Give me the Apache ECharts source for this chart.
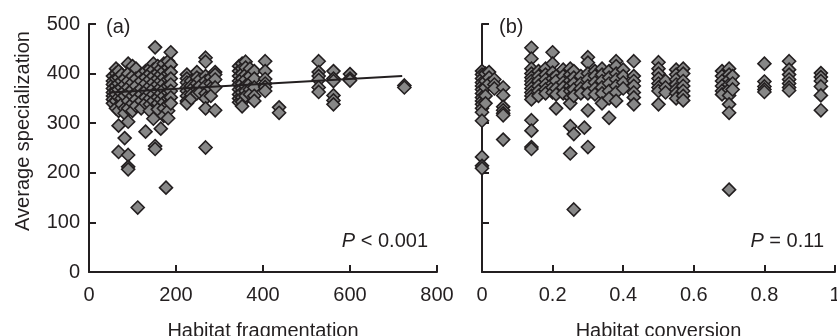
<!DOCTYPE html>
<html>
<head>
<meta charset="utf-8">
<script src="https://cdn.jsdelivr.net/npm/echarts@6/dist/echarts.min.js"></script>
<style>
  html, body { margin: 0; padding: 0; background: #fff; }
  #main { width: 837px; height: 336px; }
</style>
</head>
<body>
<div id="main"></div>
<script>
// (a) habitat fragmentation: [x, [y values at that x]]
const fragColumns = [
  [55, [395, 385, 378, 370, 362, 355, 348, 340]],
  [62, [410, 400, 390, 375, 365, 358, 345, 330]],
  [68, [405, 392, 380, 368, 352, 325, 295, 242]],
  [75, [398, 385, 372, 360, 350, 338]],
  [82, [390, 378, 365, 355, 330, 320, 270]],
  [90, [420, 400, 385, 372, 360, 345, 330, 303, 236, 212, 207]],
  [100, [415, 395, 382, 368, 355, 340, 325]],
  [108, [410, 390, 375, 360, 348, 335]],
  [112, [130]],
  [120, [398, 385, 370, 358, 345, 330]],
  [130, [405, 392, 380, 365, 352, 340, 283]],
  [140, [410, 400, 388, 375, 362, 350, 338, 325]],
  [148, [420, 408, 395, 382, 370, 358, 345, 309]],
  [152, [453, 254, 248]],
  [158, [415, 402, 390, 378, 365, 352, 340, 328]],
  [165, [410, 398, 385, 372, 360, 348, 289]],
  [172, [420, 405, 392, 380, 368, 355, 342, 330, 315]],
  [177, [170]],
  [182, [425, 412, 400, 388, 375, 362, 350, 338, 325, 310]],
  [188, [443, 418, 403, 390, 378, 365, 352, 340]],
  [225, [398, 390, 382, 372, 365, 355, 345, 340]],
  [235, [385, 375, 368, 358, 350]],
  [248, [403, 392, 380, 370, 360]],
  [255, [388, 375, 362]],
  [268, [432, 424, 395, 385, 375, 360, 350, 330, 251]],
  [280, [392, 380, 370, 355]],
  [290, [403, 398, 388, 372, 326]],
  [345, [415, 405, 395, 385, 378, 368, 358, 350, 342]],
  [352, [420, 410, 400, 390, 380, 370, 362, 352, 343, 334]],
  [360, [424, 412, 398, 388, 375, 365, 355]],
  [370, [410, 395, 380, 368, 358]],
  [380, [405, 390, 372, 355, 345]],
  [405, [425, 405, 389, 380, 373, 365]],
  [437, [332, 321]],
  [528, [425, 403, 395, 387, 372, 363]],
  [562, [405, 390, 385, 356, 346, 338]],
  [600, [399, 390, 386]],
  [725, [376, 372]]
];

// (b) habitat conversion
const convColumns = [
  [0.0, [405, 398, 390, 382, 375, 368, 360, 352, 345, 338, 330, 322, 305, 232, 214, 209]],
  [0.01, [400, 385, 372, 355, 340]],
  [0.02, [403, 392, 380]],
  [0.035, [388, 378, 370]],
  [0.06, [372, 356, 333, 326, 320, 316, 267]],
  [0.14, [452, 430, 410, 400, 392, 385, 378, 370, 362, 355, 348, 306, 285, 252, 248]],
  [0.16, [405, 395, 385, 375, 365, 355]],
  [0.18, [410, 398, 388, 378, 368, 360]],
  [0.2, [443, 420, 402, 390, 380, 372, 362]],
  [0.21, [395, 385, 370, 358, 330]],
  [0.23, [408, 395, 382, 372, 360]],
  [0.25, [410, 398, 386, 375, 365, 352, 340, 294, 239]],
  [0.26, [405, 392, 380, 368, 355, 278, 126]],
  [0.28, [395, 380, 370, 360]],
  [0.29, [291]],
  [0.3, [433, 422, 400, 388, 375, 360, 326, 252]],
  [0.32, [405, 395, 382, 370, 358]],
  [0.34, [410, 398, 385, 372, 360, 340]],
  [0.36, [405, 392, 380, 365, 350, 311]],
  [0.38, [425, 415, 400, 388, 375, 362, 345]],
  [0.4, [408, 395, 382, 370]],
  [0.43, [425, 395, 385, 375, 362, 352, 338]],
  [0.5, [423, 410, 400, 390, 380, 372, 365, 338]],
  [0.52, [385, 372, 362]],
  [0.55, [408, 398, 388, 378, 368, 360, 350]],
  [0.57, [410, 400, 385, 375, 365, 355, 346]],
  [0.68, [405, 395, 385, 375, 365, 358]],
  [0.7, [410, 398, 388, 378, 368, 356, 338, 321, 166]],
  [0.71, [395, 380, 368]],
  [0.8, [420, 384, 374, 368, 363]],
  [0.87, [425, 408, 398, 388, 380, 372, 366]],
  [0.96, [401, 393, 385, 374, 356, 326]]
];

// fitted line in (a)
const fragFit = [[50, 362], [720, 395]];

const ink = '#231f20';
const font = 'Liberation Sans, Arial, sans-serif';

function flatten(cols) {
  const out = [];
  cols.forEach(c => c[1].forEach(y => out.push([c[0], y])));
  return out;
}

const axisCommon = {
  axisLine: { lineStyle: { color: ink, width: 2 } },
  axisTick: { inside: true, length: 7, lineStyle: { color: ink, width: 2 } },
  axisLabel: { color: ink, fontSize: 20, fontFamily: font },
  splitLine: { show: false }
};

const scatterStyle = {
  type: 'scatter',
  symbol: 'diamond',
  symbolSize: 13,
  itemStyle: { color: '#878787', borderColor: ink, borderWidth: 1.6, opacity: 1 }
};

const chart = echarts.init(document.getElementById('main'), null, { renderer: 'canvas' });
chart.setOption({
  animation: false,
  grid: [
    { left: 89, top: 24, width: 348, height: 248, containLabel: false, outerBoundsMode: 'none' },
    { left: 482, top: 24, width: 353, height: 248, containLabel: false, outerBoundsMode: 'none' }
  ],
  xAxis: [
    Object.assign({}, axisCommon, {
      gridIndex: 0, type: 'value', min: 0, max: 800, interval: 200,
      axisLabel: Object.assign({}, axisCommon.axisLabel, { margin: 13 }),
      name: 'Habitat fragmentation', nameLocation: 'middle', nameGap: 49,
      nameTextStyle: { color: ink, fontSize: 20, fontFamily: font }
    }),
    Object.assign({}, axisCommon, {
      gridIndex: 1, type: 'value', min: 0, max: 1, interval: 0.2,
      axisLabel: Object.assign({}, axisCommon.axisLabel, { margin: 13 }),
      name: 'Habitat conversion', nameLocation: 'middle', nameGap: 49,
      nameTextStyle: { color: ink, fontSize: 20, fontFamily: font }
    })
  ],
  yAxis: [
    Object.assign({}, axisCommon, {
      gridIndex: 0, type: 'value', min: 0, max: 500, interval: 100,
      axisLabel: Object.assign({}, axisCommon.axisLabel, { margin: 9 }),
      name: 'Average specialization', nameLocation: 'middle', nameGap: 56,
      nameTextStyle: { color: ink, fontSize: 20, fontFamily: font, padding: [0, 0, 0, 34] }
    }),
    Object.assign({}, axisCommon, {
      gridIndex: 1, type: 'value', min: 0, max: 500, interval: 100,
      axisLabel: { show: false }
    })
  ],
  graphic: [
    { type: 'text', left: 106, top: 17, style: { text: '(a)', fill: ink, font: '20px ' + font } },
    { type: 'text', left: 499, top: 17, style: { text: '(b)', fill: ink, font: '20px ' + font } },
    {
      type: 'text', right: 409, top: 231,
      style: {
        text: '{i|P} < 0.001', fill: ink, font: '20px ' + font,
        rich: { i: { fontStyle: 'italic', fontSize: 20, fontFamily: font, fill: ink } }
      }
    },
    {
      type: 'text', right: 13, top: 231,
      style: {
        text: '{i|P} = 0.11', fill: ink, font: '20px ' + font,
        rich: { i: { fontStyle: 'italic', fontSize: 20, fontFamily: font, fill: ink } }
      }
    }
  ],
  series: [
    Object.assign({}, scatterStyle, { xAxisIndex: 0, yAxisIndex: 0, data: flatten(fragColumns) }),
    Object.assign({}, scatterStyle, { xAxisIndex: 1, yAxisIndex: 1, data: flatten(convColumns) }),
    {
      type: 'line', xAxisIndex: 0, yAxisIndex: 0, data: fragFit,
      symbol: 'none', z: 5,
      lineStyle: { color: ink, width: 2 }
    }
  ]
});
</script>
</body>
</html>
